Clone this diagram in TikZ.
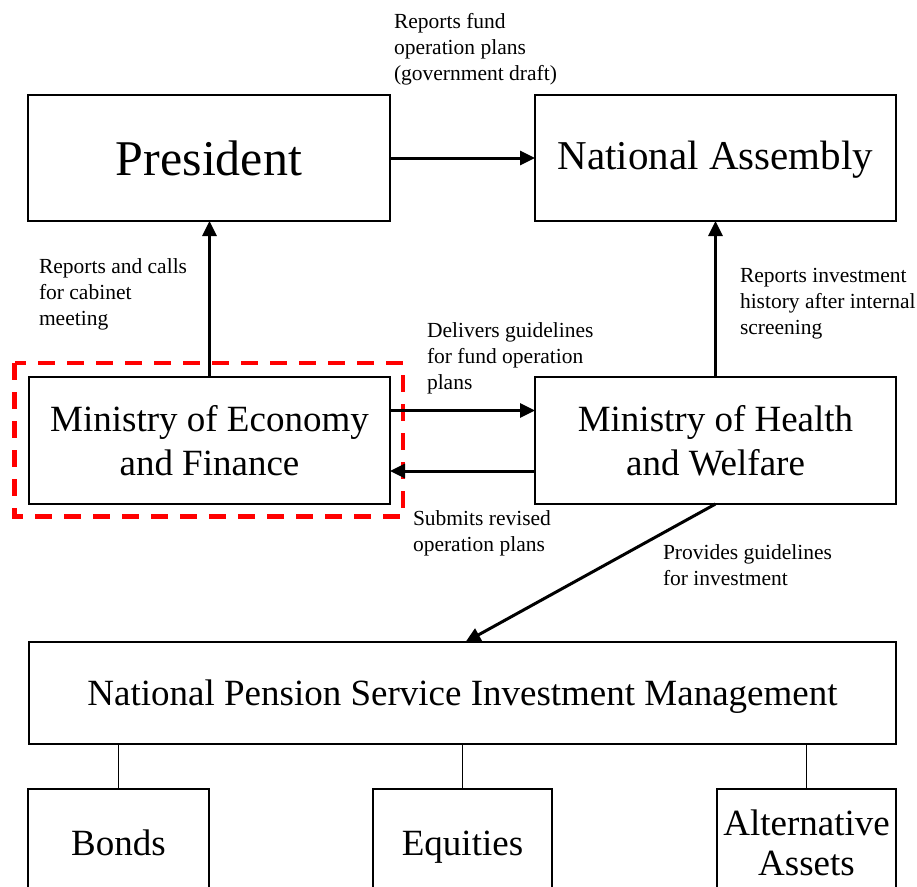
\documentclass[tikz,border=0pt]{standalone}
\usepackage{fontspec}
\setmainfont{Liberation Serif}
\usetikzlibrary{arrows.meta}

\begin{document}
\begin{tikzpicture}[
  x=1pt, y=-1pt,
  box/.style={draw, line width=1.6pt, inner sep=0pt, outer sep=0pt, align=center},
  bigtext/.style={font=\fontsize{37}{44.5}\selectfont},
  conn/.style={line width=3pt, -{Triangle[length=15pt,width=14pt]}},
  branch/.style={line width=0.8pt},
  % a note is placed by the baseline of its last line
  note/.style={anchor=base west, inner sep=0pt, outer sep=0pt, align=left,
               font=\fontsize{21.5}{26}\selectfont},
  focus/.style={draw=red, line width=4.5pt, dash pattern=on 17pt off 12pt},
]
\fill[white] (0,0) rectangle (917,886);
\useasboundingbox (0,0) rectangle (917,886);

% upper level
\node[box, minimum width=362pt, minimum height=126pt,
      font=\fontsize{50}{60}\selectfont] (pres) at (209,158) {President};
\node[box, minimum width=361pt, minimum height=126pt, text depth=6pt,
      font=\fontsize{41}{49}\selectfont] (na) at (715.5,158) {National Assembly};

% ministries
\node[box, bigtext, minimum width=361pt, minimum height=127pt] (moef) at (209.5,440.5)
  {Ministry of Economy\\and Finance};
\node[box, bigtext, minimum width=361pt, minimum height=127pt] (mohw) at (715.5,440.5)
  {Ministry of Health\\and Welfare};

% highlight around the finance ministry
\draw[focus] (14.5,363) rectangle (403,516.5);

% fund management
\node[box, bigtext, minimum width=867pt, minimum height=102pt, text depth=0pt] (nps) at (462.5,693)
  {National Pension Service Investment Management};

% asset classes (running past the lower edge)
\begin{scope}
  \clip (0,0) rectangle (917,886);
  \node[box, bigtext, minimum width=181pt, minimum height=108pt] (bonds) at (118.5,843) {Bonds};
  \node[box, bigtext, minimum width=179pt, minimum height=108pt, text depth=0pt] (eq) at (462.5,843) {Equities};
  \node[box, font=\fontsize{37}{40}\selectfont, minimum width=179pt, minimum height=108pt]
    (alt) at (806.5,843) {Alternative\\Assets};
\end{scope}

\draw[branch] (nps.south -| bonds.north) -- (bonds.north);
\draw[branch] (nps.south -| eq.north) -- (eq.north);
\draw[branch] (nps.south -| alt.north) -- (alt.north);

% reporting lines
\draw[conn] (pres.east) -- (na.west);
\draw[conn] (moef.north) -- (moef.north |- pres.south);
\draw[conn] (mohw.north) -- (na.south);
\draw[conn] ([yshift=30pt]moef.east) -- ([yshift=30pt]mohw.west);
\draw[conn] ([yshift=-30.5pt]mohw.west) -- ([yshift=-30.5pt]moef.east);
\draw[conn] (mohw.south) -- ([xshift=3pt]nps.north);

% labels
\node[note] (l1) at (394,80) {Reports fund\\operation plans\\(government draft)};
\node[note] (l2) at (39,325) {Reports and calls\\for cabinet\\meeting};
\node[note] (l3) at (740,334) {Reports investment\\history after internal\\screening};
\node[note] (l4) at (427,389) {Delivers guidelines\\for fund operation\\plans};
\node[note] (l5) at (413,551) {Submits revised\\operation plans};
\node[note] (l6) at (663,585) {Provides guidelines\\for investment};
\end{tikzpicture}
\end{document}
